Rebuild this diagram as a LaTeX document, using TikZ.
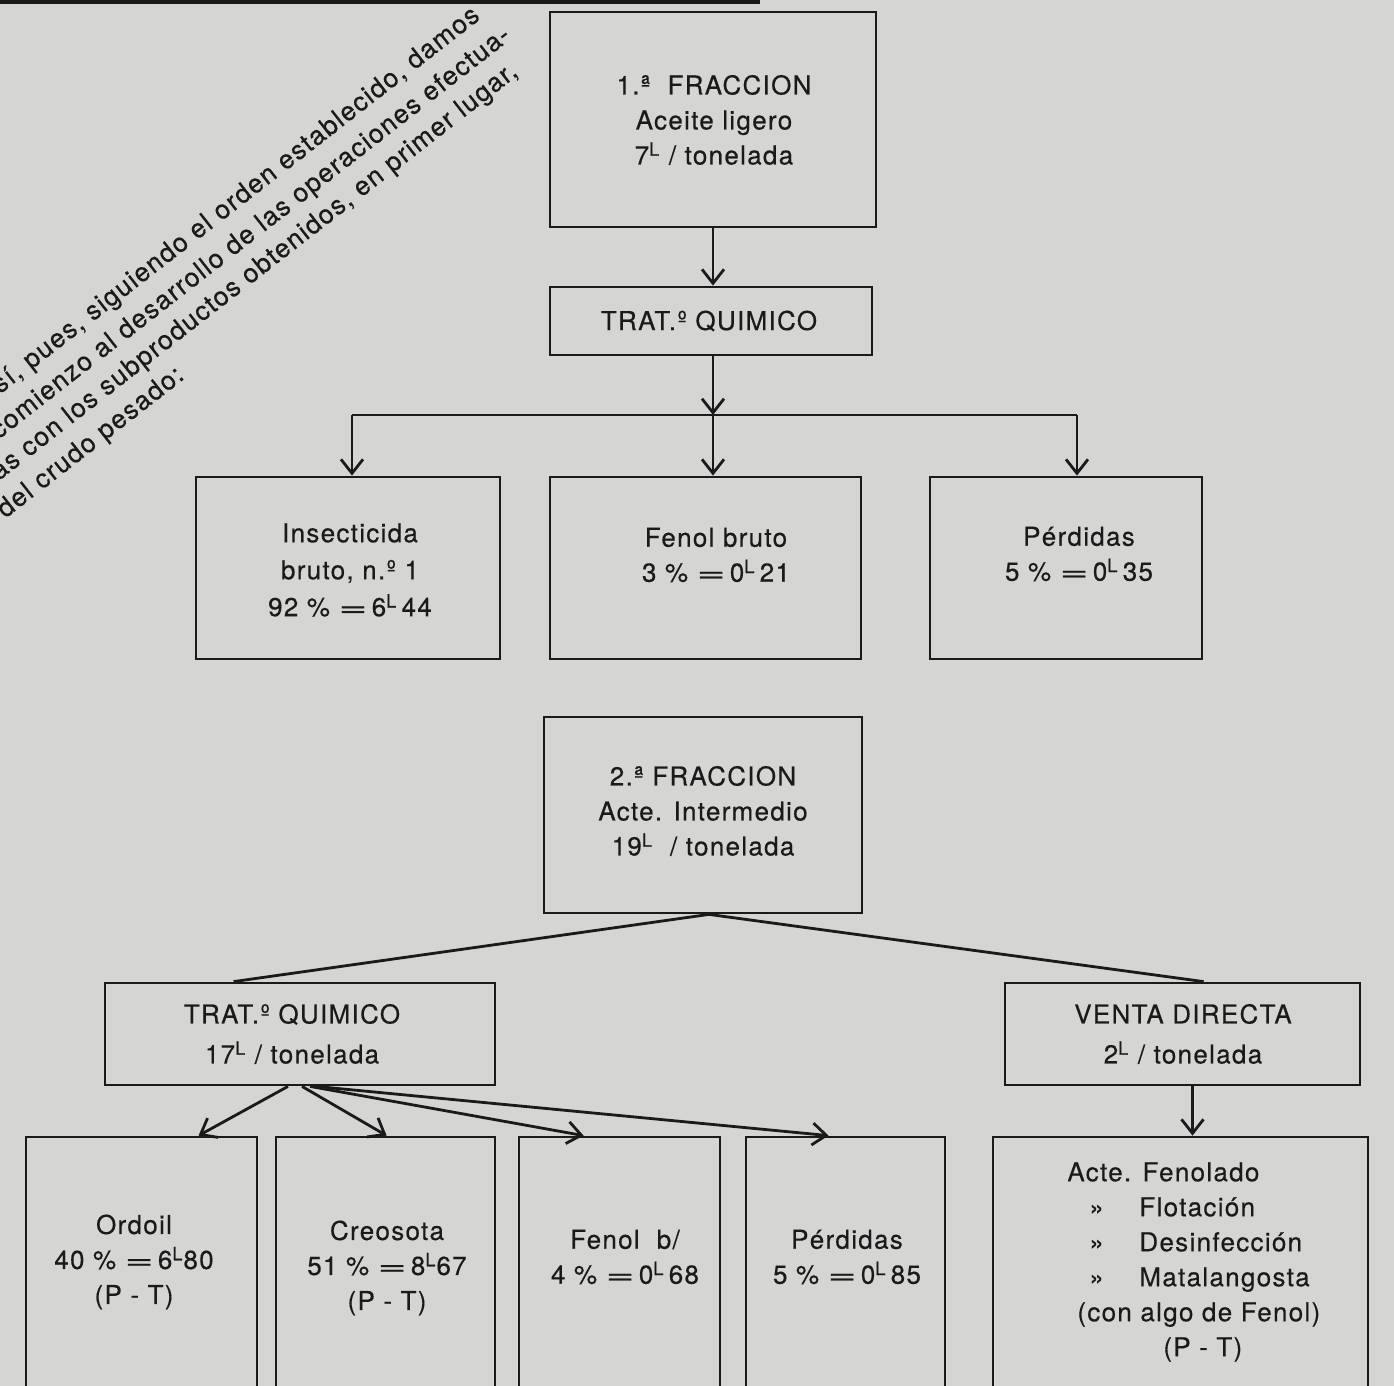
\documentclass[tikz,border=0pt]{standalone}
\usepackage{fontspec}
\setmainfont{TeX Gyre Heros}[LetterSpace=5,FakeBold=0.4]
\usepackage{graphicx}
\usetikzlibrary{arrows.meta,fit}
\definecolor{papel}{RGB}{213,213,211}
\definecolor{tinta}{RGB}{26,26,26}
\newcommand{\igual}{\scalebox{1.9}[1]{=}}
\newcommand{\litro}{\textsuperscript{L}}
\tikzset{
  caja/.style={draw=tinta,line width=1.4pt,inner sep=0pt},
  texto/.style={text=tinta,align=center,inner sep=0pt,font=\fontsize{13}{17.5}\selectfont},
  inclinado/.style={text=tinta,inner sep=0pt,rotate=38,anchor=base west,font=\fontsize{13.2}{16}\selectfont},
  linea/.style={draw=tinta,line width=1.4pt},
  flecha/.style={linea,-{Straight Barb[length=7pt,width=11pt,line width=1.4pt]}}
}
\begin{document}
\begin{tikzpicture}[x=0.5pt,y=-0.5pt]
\useasboundingbox (0,0) rectangle (1394,1386);
\clip (0,0) rectangle (1394,1386);
\fill[papel] (0,0) rectangle (1394,1386);
\fill[tinta] (0,0) rectangle (760,4);
% parrafo inclinado
\node[inclinado] (lin1) at (-15,406) {Así, pues, siguiendo el orden establecido, damos};
\node[inclinado] (lin2) at (-2,440) {comienzo al desarrollo de las operaciones efectua-};
\node[inclinado] (lin3) at (-14,491) {das con los subproductos obtenidos, en primer lugar,};
\node[inclinado] (lin4) at (5,519) {del crudo pesado:};
% cajas
\node[caja,fit={(550,12) (876,227)}] (frac1) {};
\node[caja,fit={(550,287) (872,355)}] (trat1) {};
\node[caja,fit={(196,477) (500,659)}] (insect) {};
\node[caja,fit={(550,477) (861,659)}] (fenol) {};
\node[caja,fit={(930,477) (1202,659)}] (perd1) {};
\node[caja,fit={(544,717) (862,913)}] (frac2) {};
\node[caja,fit={(105,983) (495,1085)}] (trat2) {};
\node[caja,fit={(1005,983) (1360,1085)}] (venta) {};
\node[caja,fit={(26,1137) (257,1410)}] (ordoil) {};
\node[caja,fit={(276,1137) (495,1410)}] (creos) {};
\node[caja,fit={(519,1137) (720,1410)}] (fenolb) {};
\node[caja,fit={(746,1137) (945,1410)}] (perd2) {};
\node[caja,fit={(993,1137) (1368,1410)}] (acte) {};
% textos
\node[texto] (frac1-t) at (714,120) {1.ª\ \ FRACCION\\Aceite ligero\\7\litro\ / tonelada};
\node[texto] (trat1-t) at (709,321) {TRAT.º QUIMICO};
\node[texto,font=\fontsize{13}{18.5}\selectfont] (insect-t) at (350,570) {Insecticida\\bruto, n.º 1\\92 \%\ \igual\,6\litro\,44};
\node[texto] (fenol-t) at (716,555) {Fenol bruto\\3 \%\ \igual\,0\litro\,21};
\node[texto] (perd1-t) at (1079,554) {Pérdidas\\5 \%\ \igual\,0\litro\,35};
\node[texto] (frac2-t) at (703,811) {2.ª FRACCION\\Acte. Intermedio\\19\litro\ \ / tonelada};
\node[texto,font=\fontsize{13}{20}\selectfont] (trat2-t) at (292,1034) {TRAT.º QUIMICO\\17\litro\ / tonelada};
\node[texto,font=\fontsize{13}{20}\selectfont] (venta-t) at (1183,1034) {VENTA DIRECTA\\2\litro\ / tonelada};
\node[texto] (ordoil-t) at (134,1262) {Ordoil\\40 \%\ \igual\,6\litro80\\(P - T)};
\node[texto] (creos-t) at (387,1268) {Creosota\\51 \%\ \igual\,8\litro67\\(P - T)};
\node[texto] (fenolb-t) at (625,1257) {Fenol\ \ b/\\4 \%\ \igual\,0\litro\,68};
\node[texto] (perd2-t) at (847,1257) {Pérdidas\\5 \%\ \igual\,0\litro\,85};
\node[texto,align=left,anchor=west] (acte-t) at (1067,1262) {Acte. Fenolado\\
  \makebox[36pt][l]{\hspace{11pt}»}Flotación\\
  \makebox[36pt][l]{\hspace{11pt}»}Desinfección\\
  \makebox[36pt][l]{\hspace{11pt}»}Matalangosta\\
  \hspace*{5pt}(con algo de Fenol)\\
  \hspace*{48pt}(P - T)};
% primera fraccion
\coordinate (reparto) at (713,415);
\coordinate (izq) at (352,415);
\coordinate (der) at (1077,415);
\draw[flecha] (frac1.south) -- (frac1.south |- trat1.north);
\draw[flecha] (frac1.south |- trat1.south) -- (reparto);
\draw[linea] (izq) -- (der);
\draw[flecha] (izq) -- (izq |- insect.north);
\draw[flecha] (reparto) -- (reparto |- fenol.north);
\draw[flecha] (der) -- (der |- perd1.north);
% segunda fraccion
\draw[linea] ([shift={(130,0)}]trat2.north west) -- ([xshift=3pt]frac2.south) -- ([shift={(200,0)}]venta.north west);
\foreach \o/\b/\d in {-6pt/ordoil/174, 1pt/creos/112, 5pt/fenolb/66, 8pt/perd2/84}
  \draw[flecha] ([xshift=\o]trat2.south) -- ([shift={(\d,0)}]\b.north west);
\draw[flecha] ([xshift=5pt]venta.south) -- ([xshift=5pt]venta.south |- acte.north);
\end{tikzpicture}
\end{document}
